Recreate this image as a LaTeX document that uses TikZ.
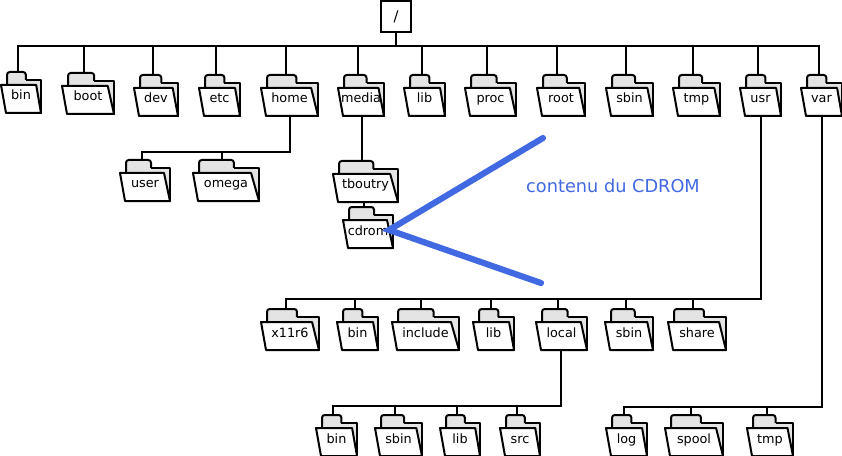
\documentclass[tikz,border=0pt]{standalone}
\usepackage{fontspec}
\setmainfont{DejaVu Sans}
\definecolor{bleu}{HTML}{4169E1}
\definecolor{onglet}{HTML}{E4E4E4}
\tikzset{
  trait/.style={line width=1.7pt},
  dossier/.style={line width=1.5pt,line join=round},
  etiquette/.style={font=\fontsize{9.6}{11}\selectfont,inner sep=0pt,anchor=base},
  fleche/.style={bleu,line width=4.6pt,line cap=round}
}
% name, left, right, top, x of the connector, text
\newcommand{\dossier}[6]{
\fill[onglet] (#2+6,#4+13) -- (#2+6,#4+1) -- ({#2+.62*(#3-#2)},#4+1) -- ({#2+.62*(#3-#2)},#4+8) -- (#3,#4+8) -- (#3,#4+41) -- (#2+6,#4+41) -- cycle;
\draw[dossier,rounded corners=2pt] (#2+6,#4+13) -- (#2+6,#4) -- ({#2+.62*(#3-#2)},#4) -- ({#2+.62*(#3-#2)},#4+8);
\draw[dossier] ({#2+.62*(#3-#2)},#4+8) -- (#3,#4+8) -- (#3,#4+41) -- (#2+6,#4+41);
\draw[dossier,fill=white] (#2,#4+13) -- ({#3-.12*(#3-#2)},#4+13) -- (#3,#4+41) -- (#2+5,#4+41) -- cycle;
\node[etiquette] (#1) at ({(#2+#3)/2},#4+28) {#6};
\coordinate (#1-t) at (#5,#4);
}
\begin{document}
\begin{tikzpicture}[x=.75pt,y=-.75pt]
\useasboundingbox (0,0) rectangle (842,456);
\node[draw,trait,minimum width=22.5pt,minimum height=23.5pt,font=\fontsize{11}{13}\selectfont] (racine) at (396,16.5) {/};
% first row
\dossier{bin}{1}{41}{72}{18}{bin}
\dossier{boot}{62}{114}{73}{84}{boot}
\dossier{dev}{134}{178}{75}{153}{dev}
\dossier{etc}{199}{240}{75}{216}{etc}
\dossier{home}{261}{318}{75}{286}{home}
\dossier{media}{338}{384}{75}{358}{media}
\dossier{lib}{404}{445}{75}{422}{lib}
\dossier{proc}{465}{516}{75}{487}{proc}
\dossier{root}{537}{585}{75}{557}{root}
\dossier{sbin}{606}{653}{75}{626}{sbin}
\dossier{tmp}{673}{720}{75}{693}{tmp}
\dossier{usr}{740}{781}{75}{758}{usr}
\dossier{var}{801}{842}{75}{819}{var}
\coordinate (bus) at (0,46);
\foreach \f in {bin,boot,dev,etc,home,media,lib,proc,root,sbin,tmp,usr,var}
\draw[trait] (racine.south) |- (bus -| \f-t) -- (\f-t);
% home
\dossier{user}{120}{170}{160}{142}{user}
\dossier{omega}{193}{259}{160}{222}{omega}
\coordinate (home-b) at (290,116);
\coordinate (home-bus) at (0,152);
\foreach \f in {user,omega}
\draw[trait] (home-b) |- (home-bus -| \f-t) -- (\f-t);
% media
\dossier{tboutry}{333}{398}{161}{362}{tboutry}
\dossier{cdrom}{343}{393}{207}{364}{cdrom}
\coordinate (media-b) at (362,116);
\coordinate (tboutry-b) at (364,202);
\draw[trait] (media-b) -- (tboutry-t);
\draw[line width=1pt] (tboutry-b) -- (cdrom-t);
% usr
\dossier{x11r6}{261}{319}{309}{286}{x11r6}
\dossier{bin2}{337}{378}{309}{355}{bin}
\dossier{include}{392}{459}{309}{421}{include}
\dossier{lib2}{473}{514}{309}{491}{lib}
\dossier{local}{536}{587}{309}{558}{local}
\dossier{sbin2}{605}{653}{309}{626}{sbin}
\dossier{share}{668}{726}{309}{693}{share}
\coordinate (usr-b) at (761,116);
\coordinate (usr-bus) at (0,299);
\foreach \f in {x11r6,bin2,include,lib2,local,sbin2,share}
\draw[trait] (usr-b) |- (usr-bus -| \f-t) -- (\f-t);
% local
\dossier{bin3}{316}{357}{415}{333}{bin}
\dossier{sbin3}{375}{422}{415}{395}{sbin}
\dossier{lib3}{440}{480}{415}{457}{lib}
\dossier{src}{500}{540}{415}{517}{src}
\coordinate (local-b) at (561,350);
\coordinate (local-bus) at (0,406);
\foreach \f in {bin3,sbin3,lib3,src}
\draw[trait] (local-b) |- (local-bus -| \f-t) -- (\f-t);
% var
\dossier{log}{606}{647}{415}{624}{log}
\dossier{spool}{665}{723}{415}{691}{spool}
\dossier{tmp2}{747}{793}{415}{767}{tmp}
\coordinate (var-b) at (822,116);
\coordinate (var-bus) at (0,407);
\foreach \f in {log,spool,tmp2}
\draw[trait] (var-b) |- (var-bus -| \f-t) -- (\f-t);
% cdrom
\node[bleu,inner sep=0pt,font=\fontsize{13.3}{16}\selectfont] (contenu) at (613,186) {contenu du CDROM};
\coordinate (pointe) at (389,230);
\coordinate (haut) at (543,138);
\coordinate (bas) at (541,283);
\draw[fleche] (haut) -- (pointe) -- (bas);
\end{tikzpicture}
\end{document}
